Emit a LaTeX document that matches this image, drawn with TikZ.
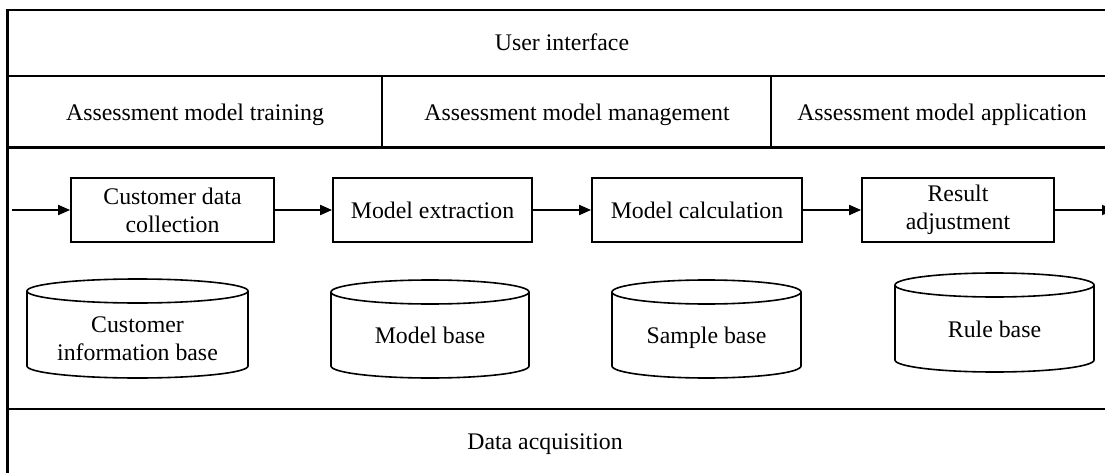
\documentclass[tikz,border=0pt]{standalone}
\usepackage{fontspec}
\setmainfont{Liberation Serif}
\usetikzlibrary{arrows.meta}

% Database cylinder: left, right, top, bottom (in pt, y growing downwards)
\newcommand\dbshape[4]{%
  \pgfmathsetmacro\dbcx{(#1+#2)/2}%
  \pgfmathsetmacro\dbrx{(#2-#1)/2}%
  \pgfmathsetmacro\dbtop{#3+12}%
  \pgfmathsetmacro\dbbot{#4-12}%
  \draw[dbline] (\dbcx,\dbtop) ellipse [x radius=\dbrx, y radius=12];
  \draw[dbline] (#1,\dbtop) -- (#1,\dbbot)
    arc [start angle=180, end angle=0, x radius=\dbrx, y radius=12]
    -- (#2,\dbtop);
}

\begin{document}
\begin{tikzpicture}[x=1pt, y=-1pt,
  txt/.style={font=\fontsize{23.8}{28}\selectfont, inner sep=0pt, align=center},
  layer/.style={line width=2.2pt},
  stepbox/.style={draw, line width=1.8pt, minimum height=64pt, inner sep=0pt,
    align=center, font=\fontsize{23.8}{28}\selectfont},
  flow/.style={-{Triangle[length=12pt, width=10pt]}, line width=1.8pt},
  dbline/.style={line width=1.6pt}
]
\useasboundingbox (0,0) rectangle (1105,473);
\fill[white] (0,0) rectangle (1105,473);

% layered frame
\draw[layer] (1120,10) -- (7.5,10) -- (7.5,490);
\draw[layer] (7.5,76) -- (1120,76);
\draw[layer] (7.5,147.5) -- (1120,147.5);
\draw[layer] (7.5,409) -- (1120,409);
\draw[layer] (382,76) -- (382,147.5);
\draw[layer] (771,76) -- (771,147.5);

% layer titles
\node[txt, anchor=base] (ui) at (562,51) {User interface};
\node[txt, anchor=base] (train) at (195,121) {Assessment model training};
\node[txt, anchor=base] (manage) at (577,121) {Assessment model management};
\node[txt, anchor=base] (apply) at (942,121) {Assessment model application};
\node[txt, anchor=base] (acq) at (545,449) {Data acquisition};

% processing chain
\node[stepbox, minimum width=203pt] (collect) at (172.5,210) {Customer data\\collection};
\node[stepbox, minimum width=199pt] (extract) at (432.5,210) {Model extraction};
\node[stepbox, minimum width=210pt] (calc) at (697,210) {Model calculation};
\node[stepbox, minimum width=192pt] (adjust) at (958,210) {Result\\adjustment};
\coordinate (in) at (12,210);
\coordinate (out) at (1114,210);

\draw[flow] (in) -- (collect);
\draw[flow] (collect) -- (extract);
\draw[flow] (extract) -- (calc);
\draw[flow] (calc) -- (adjust);
\draw[flow] (adjust) -- (out);

% data stores
\dbshape{27}{248}{279}{378}
\dbshape{331}{529}{280}{378}
\dbshape{612}{801}{280}{378}
\dbshape{895}{1094}{273}{372}

\node[txt] (custbase) at (137.5,339) {Customer\\information base};
\node[txt, anchor=base] (modelbase) at (430,343) {Model base};
\node[txt, anchor=base] (samplebase) at (706.5,343) {Sample base};
\node[txt, anchor=base] (rulebase) at (994.5,337) {Rule base};
\end{tikzpicture}
\end{document}
